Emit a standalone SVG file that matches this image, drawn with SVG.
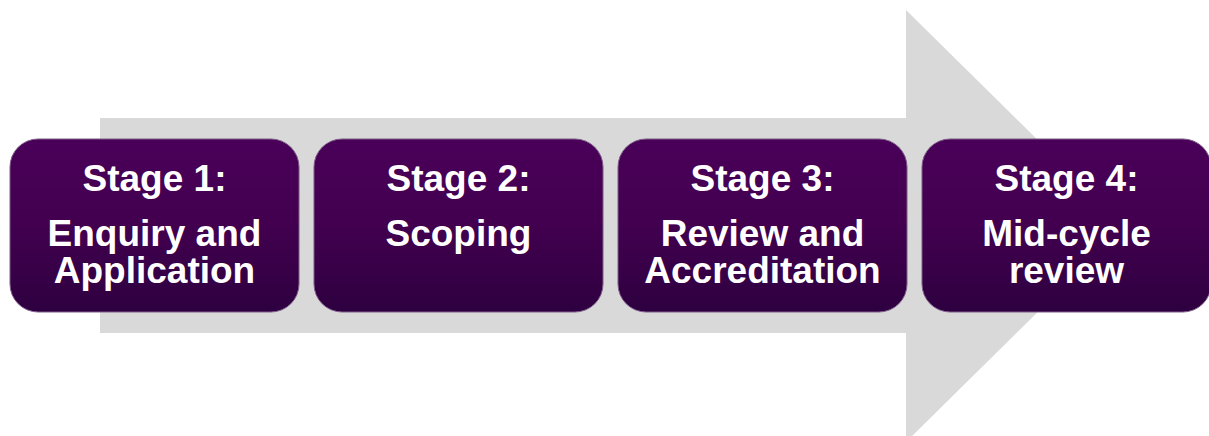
<svg xmlns="http://www.w3.org/2000/svg" width="1209" height="436" viewBox="0 0 1209 436">
  <defs>
    <linearGradient id="stageFill" x1="0" y1="0" x2="0" y2="1">
      <stop offset="0" stop-color="#4a0059"/>
      <stop offset="0.5" stop-color="#42004f"/>
      <stop offset="1" stop-color="#2e0040"/>
    </linearGradient>
    <style>
      .stage { fill: url(#stageFill); stroke: #7d5c87; stroke-width: 1; }
      .label { fill: #ffffff; font-family: "Liberation Sans", Arial, sans-serif; font-weight: bold; font-size: 37px; text-anchor: middle; }
      .flow { fill: #d9d9d9; }
    </style>
  </defs>

  <!-- background process arrow -->
  <g id="connectors">
    <polygon class="flow" points="100,118 906,118 906,10 1125,226 906,442 906,333 100,333"/>
  </g>

  <g id="stage1">
    <rect class="stage" x="10" y="139" width="289" height="173" rx="28" ry="28"/>
    <text class="label" x="154.5" y="191">Stage 1:</text>
    <text class="label" x="154.5" y="246">Enquiry and</text>
    <text class="label" x="154.5" y="283">Application</text>
  </g>

  <g id="stage2">
    <rect class="stage" x="314" y="139" width="289" height="173" rx="28" ry="28"/>
    <text class="label" x="458.5" y="191">Stage 2:</text>
    <text class="label" x="458.5" y="246">Scoping</text>
  </g>

  <g id="stage3">
    <rect class="stage" x="618" y="139" width="289" height="173" rx="28" ry="28"/>
    <text class="label" x="762.5" y="191">Stage 3:</text>
    <text class="label" x="762.5" y="246">Review and</text>
    <text class="label" x="762.5" y="283">Accreditation</text>
  </g>

  <g id="stage4">
    <rect class="stage" x="922" y="139" width="289" height="173" rx="28" ry="28"/>
    <text class="label" x="1066.5" y="191">Stage 4:</text>
    <text class="label" x="1066.5" y="246">Mid-cycle</text>
    <text class="label" x="1066.5" y="283">review</text>
  </g>
</svg>
